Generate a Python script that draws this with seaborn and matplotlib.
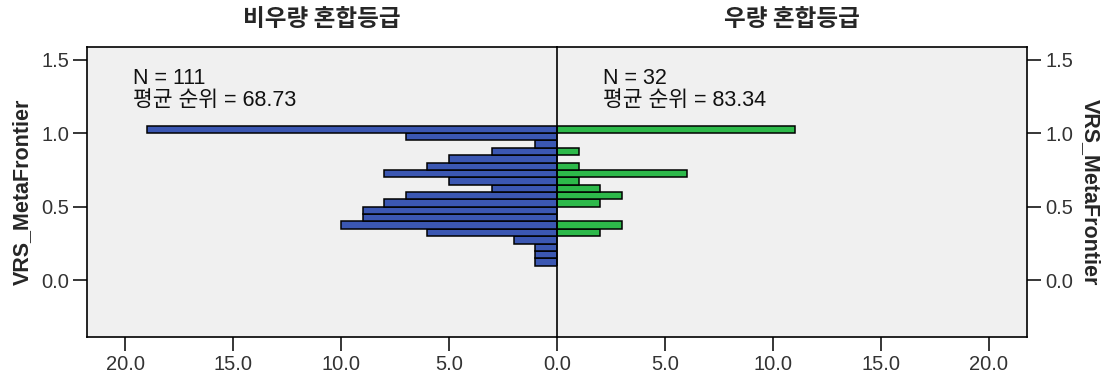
import numpy as np
import matplotlib
matplotlib.use("Agg")
import matplotlib.pyplot as plt
import seaborn as sns

# ---- data ----
bin_lower = [0.10, 0.15, 0.20, 0.25, 0.30, 0.35, 0.40, 0.45, 0.50, 0.55,
             0.60, 0.65, 0.70, 0.75, 0.80, 0.85, 0.90, 0.95, 1.00]
bin_width = 0.05
counts_left = [1, 1, 1, 2, 6, 10, 9, 9, 8, 7, 3, 5, 8, 6, 5, 3, 1, 7, 19]
counts_right = [0, 0, 0, 0, 2, 3, 0, 0, 2, 3, 2, 1, 6, 1, 0, 1, 0, 0, 11]
group_titles = ["비우량 혼합등급", "우량 혼합등급"]
n_labels = ["N = 111", "N = 32"]
rank_labels = ["평균 순위 = 68.73", "평균 순위 = 83.34"]
y_label = "VRS_MetaFrontier"
x_ticks_left = [20, 15, 10, 5]
x_ticks_right = [0, 5, 10, 15, 20]
y_ticks = [0.0, 0.5, 1.0, 1.5]

sns.set_style("white")
plt.rcParams['font.family'] = ['Liberation Sans', 'Noto Sans CJK KR', 'DejaVu Sans']

W, H = 1102, 379
fig = plt.figure(figsize=(W / 100, H / 100), dpi=100)
fig.patch.set_facecolor("white")

ax_l_px, ax_mid_px, ax_r_px = 87, 557, 1027
ax_top_px, ax_bot_px = 47, 337
axw = (ax_mid_px - ax_l_px) / W
axh = (ax_bot_px - ax_top_px) / H
ax_left = fig.add_axes([ax_l_px / W, 1 - ax_bot_px / H, axw, axh])
ax_right = fig.add_axes([ax_mid_px / W, 1 - ax_bot_px / H, (ax_r_px - ax_mid_px) / W, axh])

edges = bin_lower + [bin_lower[-1] + bin_width]
centers = [b + bin_width / 2 for b in bin_lower]

blue = "#3B57B2"
green = "#2DB94A"
xmax = 21.76
ylim = (-0.385, 1.585)

for ax, counts, color in [(ax_left, counts_left, blue), (ax_right, counts_right, green)]:
    sns.histplot(y=centers, weights=counts, bins=edges, ax=ax, color=color,
                 edgecolor="black", linewidth=1.1, alpha=1.0)
    ax.set_facecolor("#F0F0F0")
    ax.set_ylim(*ylim)
    ax.set_xlabel("")
    ax.set_ylabel("")
    for s in ax.spines.values():
        s.set_visible(True)
        s.set_color("black")
        s.set_linewidth(1.2)
    ax.tick_params(axis="both", length=10, width=1.1, color="black",
                   labelsize=14.5, labelcolor="#333333", pad=3, direction="out")
    ax.tick_params(axis="x", bottom=True, top=False, labelbottom=True)

ax_left.set_xlim(xmax, 0)
ax_right.set_xlim(0, xmax)
ax_left.set_xticks(x_ticks_left)
ax_left.set_xticklabels([f"{v:.1f}" for v in x_ticks_left])
ax_right.set_xticks(x_ticks_right)
ax_right.set_xticklabels([f"{v:.1f}" for v in x_ticks_right])

ax_left.set_yticks(y_ticks)
ax_left.set_yticklabels([f"{v:.1f}" for v in y_ticks])
ax_left.tick_params(axis="y", left=True, right=False, labelleft=True, labelright=False)
ax_right.set_yticks(y_ticks)
ax_right.set_yticklabels([f"{v:.1f}" for v in y_ticks])
ax_right.tick_params(axis="y", left=False, right=True, labelleft=False, labelright=True)
ax_right.yaxis.set_label_position("right")
ax_left.spines["right"].set_visible(False)

for ax, title, nl, rl in [(ax_left, group_titles[0], n_labels[0], rank_labels[0]),
                          (ax_right, group_titles[1], n_labels[1], rank_labels[1])]:
    ax.text(0.5, 1 + 28 / 290, title, transform=ax.transAxes, ha="center", va="center",
            fontsize=17, fontweight="bold", family=['Noto Sans CJK KR', 'DejaVu Sans'])
    ax.text(46 / 470, (337 - 79) / 290, nl, transform=ax.transAxes, ha="left", va="center",
            fontsize=15.5, color="#111111")
    ax.text(46 / 470, (337 - 101) / 290, rl, transform=ax.transAxes, ha="left", va="center",
            fontsize=15.5, color="#111111")

ax_left.set_ylabel(y_label, fontsize=15.5, fontweight="bold", labelpad=6)
ax_right.set_ylabel(y_label, fontsize=15.5, fontweight="bold", rotation=270,
                    labelpad=20)

fig.savefig("out.png", dpi=100)
